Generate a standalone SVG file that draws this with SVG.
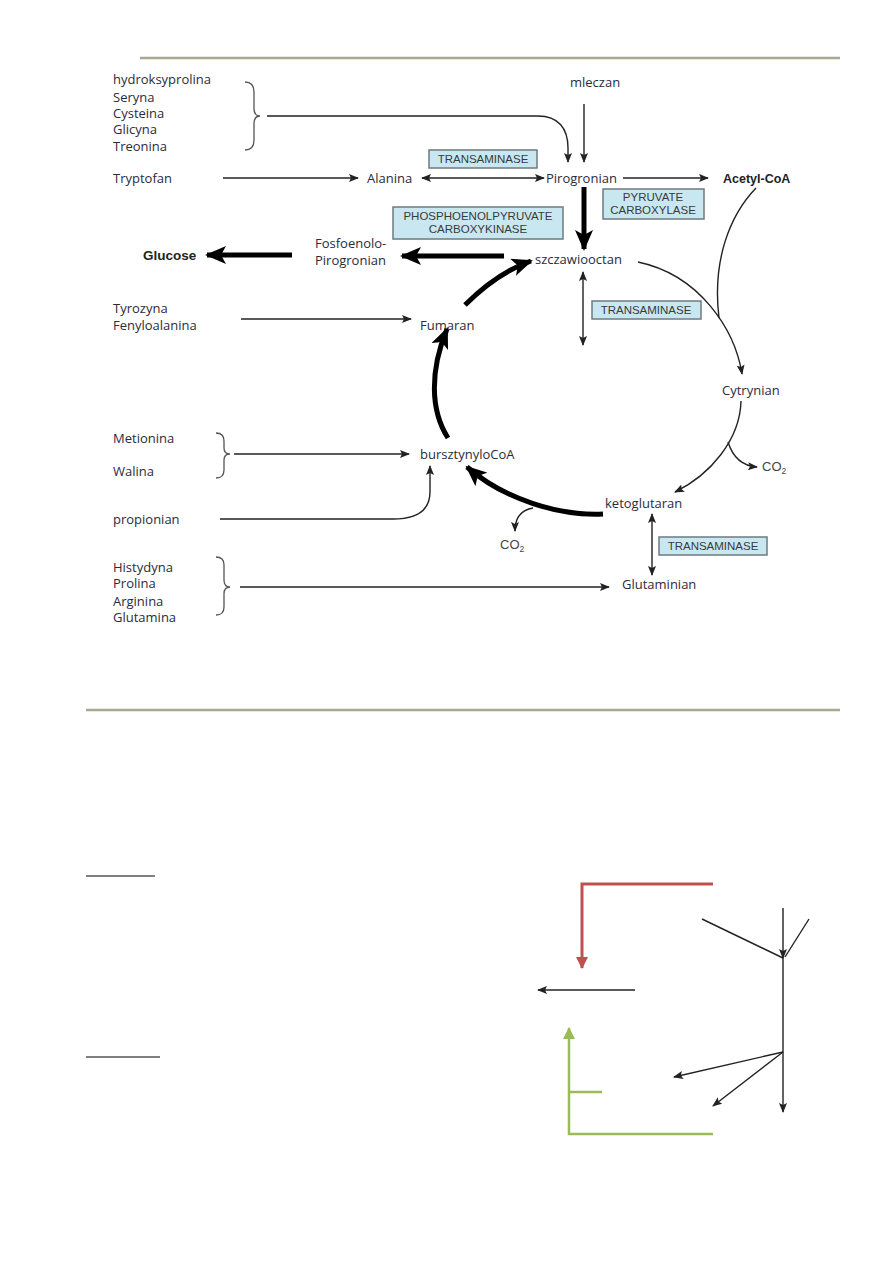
<svg xmlns="http://www.w3.org/2000/svg" width="893" height="1263" viewBox="0 0 893 1263">
<style>
.t{font-family:"Open Sans","DejaVu Sans",sans-serif;font-size:13px;fill:#2b2b3b}
.b{font-family:"Liberation Sans",Arial,sans-serif;font-weight:bold;fill:#222}
.e{font-family:"Liberation Sans",Arial,sans-serif;font-size:11.5px;fill:#3a3a3a;text-anchor:middle}
.co{font-family:"Liberation Sans",Arial,sans-serif;font-size:13px;fill:#444}
.box{fill:#c9e7f0;stroke:#6e7b80;stroke-width:1.5}
.ln{fill:none;stroke:#222;stroke-width:1.4}
.thin{marker-end:url(#ah)}
.dbl{marker-start:url(#ah);marker-end:url(#ah)}
.thk{fill:none;stroke:#000;stroke-width:5;marker-end:url(#ahT)}
.br{fill:none;stroke:#555;stroke-width:1.3}
.rule{stroke:#a9a692;stroke-width:2.5}
</style>
<defs>
<marker id="ah" markerUnits="userSpaceOnUse" markerWidth="10" markerHeight="8" refX="9" refY="4" orient="auto-start-reverse">
<path d="M0,0 L10,4 L0,8 L2,4 z" fill="#222"/>
</marker>
<marker id="ahT" markerUnits="userSpaceOnUse" markerWidth="22" markerHeight="18" refX="19" refY="9" orient="auto">
<path d="M0,0 L21,9 L0,18 L5,9 z" fill="#000"/>
</marker>
<marker id="ahR" markerUnits="userSpaceOnUse" markerWidth="12" markerHeight="12" refX="6" refY="11" orient="0">
<path d="M0,0 L12,0 L6,12 z" fill="#c0504d"/>
</marker>
<marker id="ahG" markerUnits="userSpaceOnUse" markerWidth="12" markerHeight="12" refX="6" refY="1" orient="0">
<path d="M0,12 L12,12 L6,0 z" fill="#9bbb59"/>
</marker>
</defs>

<line class="rule" x1="140" y1="58" x2="840" y2="58"/>
<line class="rule" x1="86" y1="710" x2="840" y2="710"/>

<g id="sources">
<text class="t" x="113" y="84">hydroksyprolina</text>
<text class="t" x="113" y="102">Seryna</text>
<text class="t" x="113" y="118">Cysteina</text>
<text class="t" x="113" y="134">Glicyna</text>
<text class="t" x="113" y="151">Treonina</text>
<text class="t" x="113" y="183">Tryptofan</text>
<text class="t" x="113" y="313">Tyrozyna</text>
<text class="t" x="113" y="330">Fenyloalanina</text>
<text class="t" x="113" y="443">Metionina</text>
<text class="t" x="113" y="476">Walina</text>
<text class="t" x="113" y="524">propionian</text>
<text class="t" x="113" y="572">Histydyna</text>
<text class="t" x="113" y="588">Prolina</text>
<text class="t" x="113" y="606">Arginina</text>
<text class="t" x="113" y="622">Glutamina</text>
<path class="br" d="M245,82 Q254,82 254,92 V108 Q254,116 260,116 Q254,116 254,124 V140 Q254,150 245,150"/>
<path class="br" d="M216,433 Q224,433 224,441 V448 Q224,454 230,454 Q224,454 224,460 V470 Q224,478 216,478"/>
<path class="br" d="M216,557 Q224,557 224,565 V580 Q224,587 230,587 Q224,587 224,594 V607 Q224,615 216,615"/>
</g>

<g id="mleczan"><text class="t" x="570" y="87">mleczan</text></g>
<g id="pirogronian"><text class="t" x="546" y="183">Pirogronian</text></g>
<g id="alanina"><text class="t" x="367" y="183">Alanina</text></g>
<g id="acetylcoa"><text class="b" x="723" y="183" font-size="12.5">Acetyl-CoA</text></g>
<g id="glucose"><text class="b" x="143" y="260" font-size="13.5">Glucose</text></g>
<g id="fosfoenolo"><text class="t" x="315" y="248">Fosfoenolo-</text><text class="t" x="315" y="265">Pirogronian</text></g>
<g id="szczawiooctan"><text class="t" x="535" y="264">szczawiooctan</text></g>
<g id="fumaran"><text class="t" x="420" y="330">Fumaran</text></g>
<g id="cytrynian"><text class="t" x="722" y="395">Cytrynian</text></g>
<g id="bursztynylocoa"><text class="t" x="420" y="459">bursztynyloCoA</text></g>
<g id="ketoglutaran"><text class="t" x="605" y="508">ketoglutaran</text></g>
<g id="glutaminian"><text class="t" x="622" y="589">Glutaminian</text></g>
<g id="co2a"><text class="co" x="762" y="471">CO<tspan font-size="8.5" dy="3">2</tspan></text></g>
<g id="co2b"><text class="co" x="500" y="549">CO<tspan font-size="8.5" dy="3">2</tspan></text></g>

<g id="enzymes">
<rect class="box" x="429" y="150" width="108" height="18"/>
<text class="e" x="483" y="163">TRANSAMINASE</text>
<rect class="box" x="603" y="189" width="101" height="30"/>
<text class="e" x="653" y="201">PYRUVATE</text>
<text class="e" x="653" y="214">CARBOXYLASE</text>
<rect class="box" x="393" y="207" width="170" height="32"/>
<text class="e" x="478" y="220">PHOSPHOENOLPYRUVATE</text>
<text class="e" x="478" y="233">CARBOXYKINASE</text>
<rect class="box" x="592" y="301" width="109" height="18"/>
<text class="e" x="646" y="314">TRANSAMINASE</text>
<rect class="box" x="659" y="537" width="108" height="18"/>
<text class="e" x="713" y="550">TRANSAMINASE</text>
</g>

<g id="connectors">
<path class="ln thin" d="M267,116 H538 C558,116 568,128 568,148 V162"/>
<path class="ln thin" d="M584,104 V162"/>
<path class="ln thin" d="M223,178 H358"/>
<path class="ln dbl" d="M422,178 H544"/>
<path class="ln thin" d="M623,178 H708"/>
<path class="thk" d="M584,187 V249"/>
<path class="thk" d="M504,256 H402"/>
<path class="thk" d="M292,255 H207"/>
<path class="ln thin" d="M638,262 C700,275 735,330 742,374"/>
<path class="ln" d="M756,188 C730,215 712,260 719,318"/>
<path class="ln thin" d="M741,401 C740,440 710,475 675,492"/>
<path class="ln thin" d="M728,442 C733,458 743,466 757,467"/>
<path class="thk" d="M603,514 C560,516 505,500 467,467"/>
<path class="ln thin" d="M533,508 C521,510 515,518 515,531"/>
<path class="thk" d="M448,438 C430,410 430,370 447,329"/>
<path class="thk" d="M465,305 C485,285 505,270 531,261"/>
<path class="ln dbl" d="M583,272 V345"/>
<path class="ln thin" d="M241,319 H411"/>
<path class="ln thin" d="M234,454 H409"/>
<path class="ln thin" d="M220,519 H393 C418,519 430,510 430,492 V466"/>
<path class="ln thin" d="M240,587 H609"/>
<path class="ln dbl" d="M652,514 V575"/>
</g>

<g id="underlines">
<line x1="86" y1="876" x2="155" y2="876" stroke="#000" stroke-width="1"/>
<line x1="86" y1="1057" x2="160" y2="1057" stroke="#000" stroke-width="1"/>
</g>

<g id="scheme2">
<path d="M713,884 H582 V968" fill="none" stroke="#c0504d" stroke-width="3" marker-end="url(#ahR)"/>
<path class="ln thin" d="M635,990 H538"/>
<path d="M713,1134 H569 V1028" fill="none" stroke="#9bbb59" stroke-width="2.5" marker-end="url(#ahG)"/>
<path d="M569,1092 H602" fill="none" stroke="#9bbb59" stroke-width="2.5"/>
<path class="ln thin" d="M783,908 V958"/>
<path class="ln thin" d="M783,958 V1112"/>
<path class="ln" d="M702,919 L783,958"/>
<path class="ln" d="M809,919 L785,957"/>
<path class="ln thin" d="M783,1052 L674,1077"/>
<path class="ln thin" d="M783,1052 L713,1106"/>
</g>
</svg>
